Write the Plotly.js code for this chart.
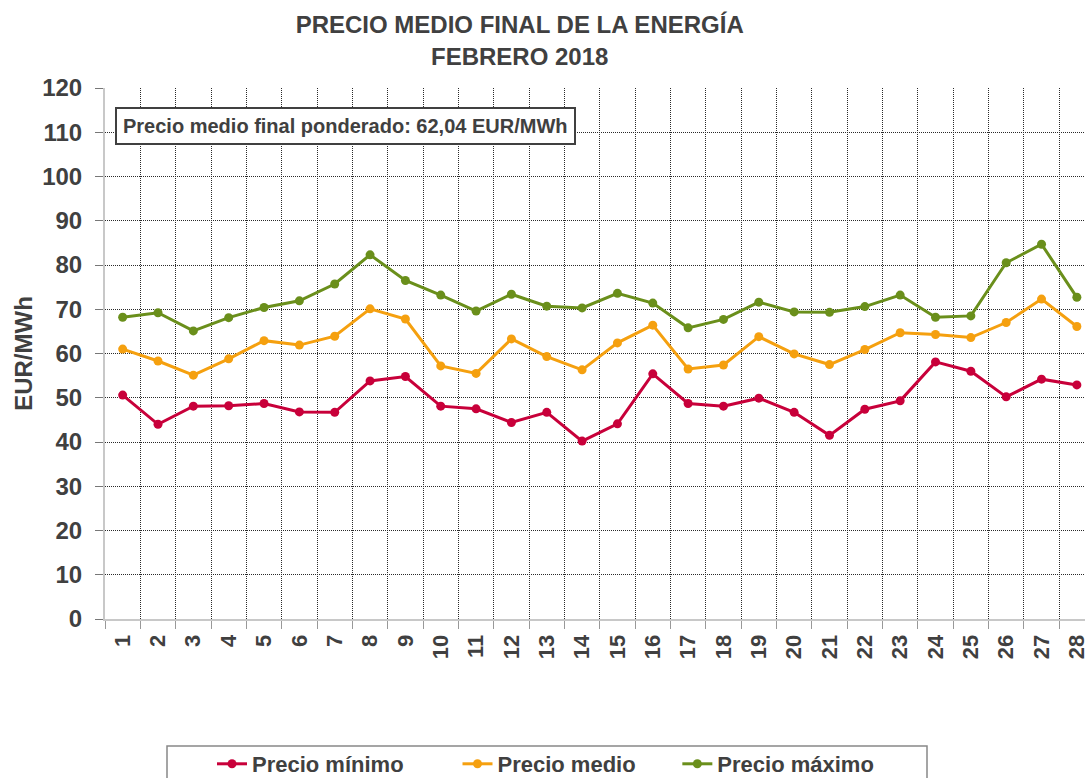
<!DOCTYPE html>
<html>
<head>
<meta charset="utf-8">
<script src="https://cdn.plot.ly/plotly-3.0.1.min.js"></script>
<style>html,body{margin:0;padding:0;background:#fff;overflow:hidden}</style>
</head>
<body>
<div id="chart" style="width:1085px;height:778px"></div>
<script>
var days = [1,2,3,4,5,6,7,8,9,10,11,12,13,14,15,16,17,18,19,20,21,22,23,24,25,26,27,28];
var dayLabels = days.map(String);
var precioMinimo = [50.6,44.0,48.1,48.2,48.7,46.8,46.7,53.8,54.8,48.1,47.5,44.4,46.7,40.2,44.1,55.4,48.7,48.1,49.9,46.7,41.5,47.4,49.3,58.1,56.0,50.2,54.2,52.9];
var precioMedio  = [61.0,58.3,55.1,58.8,62.9,61.9,63.9,70.1,67.8,57.2,55.5,63.3,59.3,56.3,62.4,66.4,56.5,57.4,63.8,59.9,57.5,60.9,64.7,64.3,63.6,67.0,72.3,66.1];
var precioMaximo = [68.2,69.2,65.1,68.1,70.4,71.9,75.7,82.3,76.5,73.2,69.6,73.4,70.7,70.3,73.6,71.4,65.8,67.7,71.6,69.4,69.3,70.6,73.2,68.2,68.5,80.5,84.7,72.7];
var yTicks = [0,10,20,30,40,50,60,70,80,90,100,110,120];
var seriesNames = ['Precio mínimo','Precio medio','Precio máximo'];
var seriesColors = ['#C8003A','#F5A00F','#6A8F1B'];
var titleText = 'PRECIO MEDIO FINAL DE LA ENERGÍA<br>FEBRERO 2018';
var noteText = 'Precio medio final ponderado: 62,04 EUR/MWh';

var FONT = 'Liberation Sans, Arial, sans-serif';
var TXT = '#404040';
var legendPads = ['\u00a0'.repeat(8), '\u00a0'.repeat(6), ''];
var data = [precioMinimo, precioMedio, precioMaximo].map(function(vals, i){
  return {
    x: days, y: vals, type: 'scatter', mode: 'lines+markers',
    name: seriesNames[i] + legendPads[i],
    line: {color: seriesColors[i], width: 3},
    marker: {color: seriesColors[i], size: 9}
  };
});

var layout = {
  width: 1085, height: 778,
  paper_bgcolor: '#fff', plot_bgcolor: '#fff',
  margin: {l: 105, r: 0, t: 88, b: 159},
  font: {family: FONT, color: TXT},
  title: {text: titleText, x: 0.479, xref: 'container', xanchor: 'center', y: 0.957, yref: 'container', yanchor: 'top',
          font: {family: FONT, size: 24, weight: 'bold', color: TXT}},
  xaxis: {
    range: [0.5, 28.23], tickmode: 'array', tickvals: days, ticktext: dayLabels,
    tickangle: -90, ticks: '', showgrid: false, zeroline: false,
    showline: true, linecolor: '#c8c8c8', linewidth: 2,
    ticklabeloverflow: 'allow',
    tickfont: {family: FONT, size: 22, weight: 'bold', color: TXT},
    ticklabelstandoff: 5,
    minor: {tick0: 0.5, dtick: 1, showgrid: true, gridcolor: '#2a2a2a', gridwidth: 1, griddash: '1px,1px',
            ticks: 'outside', ticklen: 8, tickcolor: '#999', tickwidth: 1}
  },
  yaxis: {
    range: [0, 120], tickmode: 'array', tickvals: yTicks,
    showgrid: true, gridcolor: '#2a2a2a', gridwidth: 1, griddash: '1px,1px',
    zeroline: false, showline: true, linecolor: '#c8c8c8', linewidth: 2,
    ticks: 'outside', ticklen: 8, tickcolor: '#777', tickwidth: 1,
    ticklabelstandoff: 8,
    tickfont: {family: FONT, size: 24, weight: 'bold', color: TXT},
    title: {text: 'EUR/MWh', standoff: 3, font: {family: FONT, size: 24, weight: 'bold', color: TXT}}
  },
  annotations: [{
    text: noteText, xref: 'paper', yref: 'y', x: 0.0102, y: 111.5, xanchor: 'left', yanchor: 'middle',
    showarrow: false, bgcolor: '#fff', bordercolor: '#404040', borderwidth: 2, borderpad: 6,
    font: {family: FONT, size: 20, weight: 'bold', color: TXT}
  }],
  shapes: [{
    type: 'rect', xref: 'paper', yref: 'paper',
    x0: (167-105)/980, x1: (927-105)/980, y0: (619-746)/531, y1: (619-800)/531,
    line: {color: '#888', width: 1.5}, fillcolor: 'rgba(0,0,0,0)'
  }],
  showlegend: true,
  legend: {
    orientation: 'h', xref: 'container', yref: 'container',
    x: 212/1085, xanchor: 'left', y: 1 - 743/778, yanchor: 'top',
    itemwidth: 30,
    bgcolor: 'rgba(0,0,0,0)', borderwidth: 0,
    font: {family: FONT, size: 22, weight: 'bold', color: TXT}
  }
};

Plotly.newPlot('chart', data, layout, {displayModeBar: false, staticPlot: true});
</script>
</body>
</html>
